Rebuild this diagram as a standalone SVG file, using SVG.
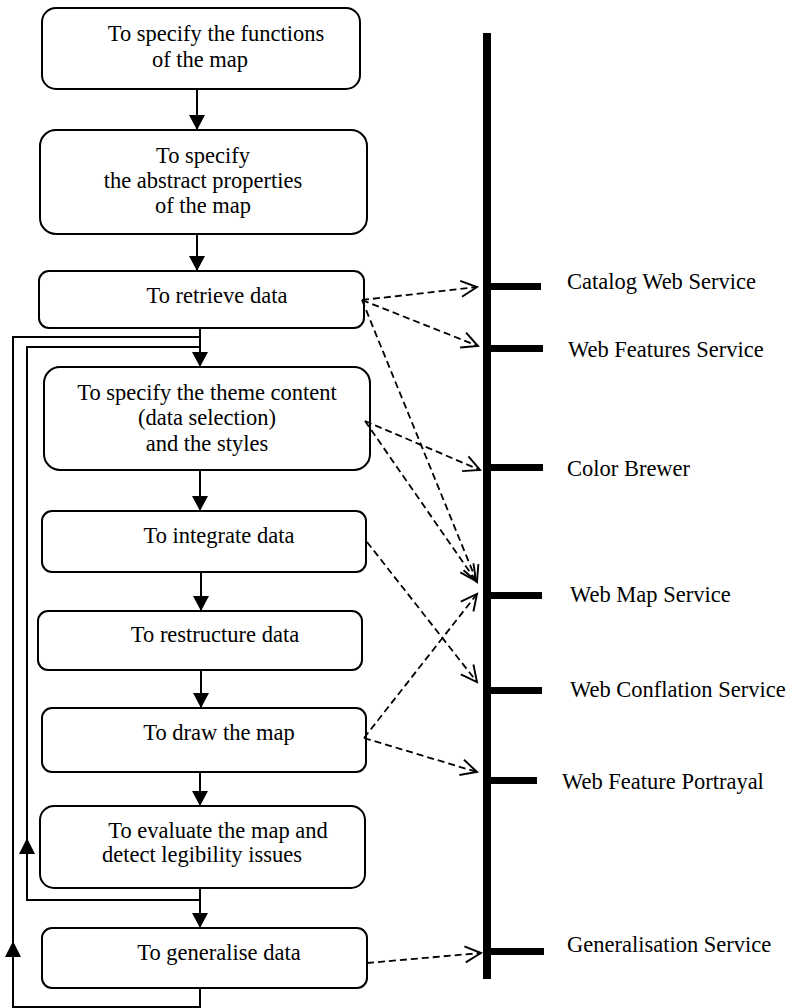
<svg xmlns="http://www.w3.org/2000/svg" width="791" height="1008" viewBox="0 0 791 1008">
  <style>
    .box { fill: #fff; stroke: #000; stroke-width: 2; }
    .lbl { font-family: "Liberation Serif", "Times New Roman", serif; font-size: 22.5px; fill: #000; }
    .mid { text-anchor: middle; }
    .flow { fill: none; stroke: #000; stroke-width: 2; }
    .dash { fill: none; stroke: #000; stroke-width: 1.8; stroke-dasharray: 7 4; }
    .bar { fill: #000; }
  </style>
  <defs>
    <marker id="solid" markerUnits="userSpaceOnUse" markerWidth="16" markerHeight="16" viewBox="0 0 15 16" refX="15" refY="8" orient="auto">
      <path d="M0,0 L15,8 L0,16 z" fill="#000"/>
    </marker>
    <marker id="open" markerUnits="userSpaceOnUse" markerWidth="20" markerHeight="20" viewBox="-1 -10 20 20" refX="16" refY="0" orient="auto">
      <path d="M0,-8 L16,0 L0,8" fill="none" stroke="#000" stroke-width="1.9"/>
    </marker>
  </defs>

  <rect width="791" height="1008" fill="#fff"/>

  <!-- process steps -->
  <g id="step-functions">
    <rect class="box" x="42" y="8" width="318" height="81" rx="14"/>
    <text class="lbl mid" x="216" y="41">To specify the functions</text>
    <text class="lbl mid" x="200" y="67">of the map</text>
  </g>
  <g id="step-abstract">
    <rect class="box" x="40" y="130" width="327" height="104" rx="16"/>
    <text class="lbl mid" x="203" y="163">To specify</text>
    <text class="lbl mid" x="203" y="188">the abstract properties</text>
    <text class="lbl mid" x="203" y="213">of the map</text>
  </g>
  <g id="step-retrieve">
    <rect class="box" x="39" y="271" width="325" height="57" rx="10"/>
    <text class="lbl mid" x="217" y="303">To retrieve data</text>
  </g>
  <g id="step-theme">
    <rect class="box" x="44" y="367" width="326" height="103" rx="16"/>
    <text class="lbl mid" x="207" y="400">To specify the theme content</text>
    <text class="lbl mid" x="207" y="425">(data selection)</text>
    <text class="lbl mid" x="207" y="451">and the styles</text>
  </g>
  <g id="step-integrate">
    <rect class="box" x="42" y="511" width="324" height="61" rx="10"/>
    <text class="lbl mid" x="219" y="543">To integrate data</text>
  </g>
  <g id="step-restructure">
    <rect class="box" x="38" y="611" width="324" height="59" rx="10"/>
    <text class="lbl mid" x="215" y="642">To restructure data</text>
  </g>
  <g id="step-draw">
    <rect class="box" x="42" y="708" width="324" height="64" rx="10"/>
    <text class="lbl mid" x="219" y="740">To draw the map</text>
  </g>
  <g id="step-evaluate">
    <rect class="box" x="40" y="806" width="325" height="82" rx="14"/>
    <text class="lbl mid" x="218" y="838">To evaluate the map and</text>
    <text class="lbl mid" x="202" y="862">detect legibility issues</text>
  </g>
  <g id="step-generalise">
    <rect class="box" x="42" y="928" width="325" height="60" rx="10"/>
    <text class="lbl mid" x="219" y="960">To generalise data</text>
  </g>

  <!-- service bus -->
  <g id="services">
    <rect class="bar" x="483" y="33" width="8" height="946"/>
    <rect class="bar" x="487" y="283" width="54" height="7"/>
    <rect class="bar" x="487" y="345" width="56" height="7"/>
    <rect class="bar" x="487" y="464" width="56" height="7"/>
    <rect class="bar" x="487" y="592" width="55" height="7"/>
    <rect class="bar" x="487" y="687" width="55" height="7"/>
    <rect class="bar" x="487" y="777" width="50" height="7"/>
    <rect class="bar" x="487" y="948" width="57" height="7"/>
    <text class="lbl" x="567" y="289">Catalog Web Service</text>
    <text class="lbl" x="568" y="357">Web Features Service</text>
    <text class="lbl" x="567" y="476">Color Brewer</text>
    <text class="lbl" x="570" y="602">Web Map Service</text>
    <text class="lbl" x="570" y="697">Web Conflation Service</text>
    <text class="lbl" x="562" y="789">Web Feature Portrayal</text>
    <text class="lbl" x="567" y="952">Generalisation Service</text>
  </g>

  <!-- connectors -->
  <g id="connectors">
    <line class="flow" x1="197" y1="89" x2="197" y2="130" marker-end="url(#solid)"/>
    <line class="flow" x1="197" y1="234" x2="197" y2="271" marker-end="url(#solid)"/>
    <line class="flow" x1="200" y1="328" x2="200" y2="367" marker-end="url(#solid)"/>
    <line class="flow" x1="200" y1="470" x2="200" y2="511" marker-end="url(#solid)"/>
    <line class="flow" x1="201" y1="572" x2="201" y2="611" marker-end="url(#solid)"/>
    <line class="flow" x1="201" y1="670" x2="201" y2="708" marker-end="url(#solid)"/>
    <line class="flow" x1="200" y1="772" x2="200" y2="806" marker-end="url(#solid)"/>
    <line class="flow" x1="200" y1="888" x2="200" y2="928" marker-end="url(#solid)"/>

    <!-- feedback loops -->
    <path class="flow" d="M200,337 H13 V1007 H200 V988"/>
    <path class="flow" d="M200,347 H27 V900 H200"/>
    <polygon points="13,941 5,957 21,957" fill="#000"/>
    <polygon points="27,838 19,854 35,854" fill="#000"/>

    <!-- service calls -->
    <line class="dash" x1="362" y1="300" x2="477" y2="287" marker-end="url(#open)"/>
    <line class="dash" x1="362" y1="300" x2="478" y2="346" marker-end="url(#open)"/>
    <line class="dash" x1="362" y1="300" x2="477" y2="582" marker-end="url(#open)"/>
    <line class="dash" x1="365" y1="421" x2="480" y2="470" marker-end="url(#open)"/>
    <line class="dash" x1="365" y1="421" x2="476" y2="581" marker-end="url(#open)"/>
    <line class="dash" x1="367" y1="542" x2="477" y2="682" marker-end="url(#open)"/>
    <line class="dash" x1="364" y1="738" x2="477" y2="594" marker-end="url(#open)"/>
    <line class="dash" x1="364" y1="738" x2="477" y2="772" marker-end="url(#open)"/>
    <line class="dash" x1="367" y1="963" x2="481" y2="953" marker-end="url(#open)"/>
  </g>
</svg>
